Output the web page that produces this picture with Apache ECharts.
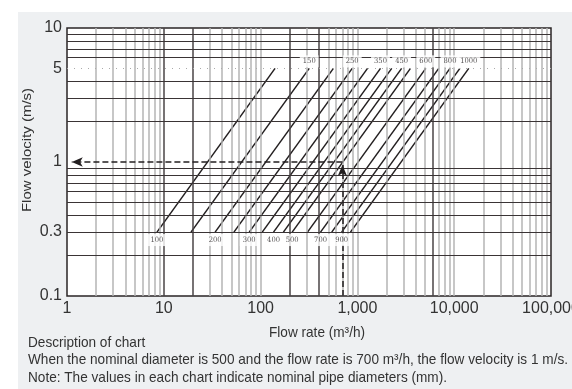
<!DOCTYPE html>
<html><head><meta charset="utf-8">
<script src="https://cdn.jsdelivr.net/npm/echarts@6/dist/echarts.min.js"></script>
<style>html,body{margin:0;padding:0;background:#fff}#c{width:572px;height:389px}</style>
</head><body><div id="c"></div>
<script>
// Nominal pipe diameters (mm) and the flow rates (m3/h) at each line's two ends
const diameters = [100, 150, 200, 250, 300, 350, 400, 450, 500, 600, 700, 800, 900, 1000];
const flowAtLowEnd = [8.5, 19.1, 33.9, 53, 76.3, 104, 136, 172, 212, 305, 416, 543, 687, 848];
const flowAtHighEnd = [141, 318, 565, 884, 1272, 1732, 2262, 2863, 3534, 5089, 6927, 9048, 11451, 14137];
const velocityLowEnd = 0.3;
const velocityHighEnd = 5;
const labelledAtTop = [150, 250, 350, 450, 600, 800, 1000];

// Axis ticks / gridlines
const xTickLabels = ['1', '10', '100', '1,000', '10,000', '100,000'];
const yExtraTicks = [5, 0.3];
const hGridLines = [0.2, 0.3, 0.4, 0.5, 0.6, 0.7, 0.8, 0.9, 2, 3, 4, 6, 7, 8, 9];
const hGridFaint = [5];
const vGridDark = [10, 20, 200, 400, 6000];
const vGridLight = [2, 3, 4, 5, 6, 7, 8, 9, 30, 40, 50, 60, 70, 80, 90, 100, 300, 500, 600, 700, 800, 900,
  1000, 2000, 3000, 4000, 5000, 7000, 8000, 9000, 10000, 20000, 30000, 40000, 50000, 60000, 70000, 80000, 90000];

// Worked example
const exampleFlow = 700;
const exampleVelocity = 1;
const arrowTipFlow = 1.12;
const arrowTipVelocity = 0.95;

// Texts
const yTitle = 'Flow velocity (m/s)';
const xTitle = 'Flow rate (m³/h)';
const notes = [
  'Description of chart',
  'When the nominal diameter is 500 and the flow rate is 700 m³/h, the flow velocity is 1 m/s.',
  'Note: The values in each chart indicate nominal pipe diameters (mm).'
];

const INK = '#231f20';
const baseFont = '15px "Liberation Sans", Arial, sans-serif';
const tickFont = { fontFamily: '"Liberation Sans", Arial, sans-serif', fontSize: 16, color: '#333' };

// condensed look: horizontally squeeze Liberation Sans so the long note line spans ~540px
const mctx = document.createElement('canvas').getContext('2d');
mctx.font = baseFont;
const squeeze = 540 / mctx.measureText(notes[1]).width;

const chart = echarts.init(document.getElementById('c'));

const gridMarks = [];
vGridLight.forEach(v => gridMarks.push({ xAxis: v, lineStyle: { color: '#b4b4b4', width: 1.5, type: 'solid' } }));
vGridDark.forEach(v => gridMarks.push({ xAxis: v, lineStyle: { color: '#4a4446', width: 1.5, type: 'solid' } }));
hGridLines.forEach(v => {
  const m = { yAxis: v, lineStyle: { color: '#3a3435', width: 1, type: 'solid' } };
  if (yExtraTicks.includes(v)) m.label = { show: true, position: 'start', formatter: String(v), distance: 5, ...tickFont };
  gridMarks.push(m);
});
hGridFaint.forEach(v => {
  const m = { yAxis: v, lineStyle: { color: '#aaa', width: 1, type: [1, 6] } };
  if (yExtraTicks.includes(v)) m.label = { show: true, position: 'start', formatter: String(v), distance: 5, ...tickFont };
  gridMarks.push(m);
});

const series = [{
  type: 'line', name: 'grid', data: [], z: 1, silent: true,
  markLine: { silent: true, symbol: 'none', animation: false, label: { show: false }, data: gridMarks }
}];

diameters.forEach((d, i) => {
  series.push({
    type: 'line', name: 'DN' + d, z: 3, silent: true, symbol: 'none', animation: false,
    lineStyle: { color: INK, width: 1.5 },
    data: [[flowAtLowEnd[i], velocityLowEnd], [flowAtHighEnd[i], velocityHighEnd]]
  });
});

const labelData = diameters.map((d, i) => {
  const top = labelledAtTop.includes(d);
  return {
    value: top ? [flowAtHighEnd[i], velocityHighEnd] : [flowAtLowEnd[i], velocityLowEnd],
    label: { position: top ? 'top' : 'bottom', distance: top ? 1 : 2, formatter: String(d) }
  };
});
series.push({
  type: 'scatter', name: 'labels', z: 6, silent: true, symbolSize: 0, animation: false,
  data: labelData,
  label: {
    show: true, fontFamily: '"DejaVu Serif Condensed", "Liberation Serif", serif', fontSize: 7.5,
    color: INK, backgroundColor: '#fff', padding: [2, 3]
  }
});

series.push({
  type: 'line', name: 'example', data: [], z: 5, silent: true,
  markLine: {
    silent: true, animation: false, label: { show: false },
    symbol: ['none', 'arrow'], symbolSize: [7, 11],
    lineStyle: { color: INK, width: 1.5, type: [6, 3] },
    data: [
      [{ coord: [exampleFlow, exampleVelocity] }, { coord: [arrowTipFlow, exampleVelocity] }],
      [{ coord: [exampleFlow, 0.1] }, { coord: [exampleFlow, arrowTipVelocity] }]
    ]
  }
});

const textEl = (txt, x, y, align, rot) => ({
  type: 'text', x, y, rotation: rot || 0, scaleX: rot ? 1 : squeeze, scaleY: rot ? squeeze : 1,
  style: { text: txt, align, verticalAlign: 'middle', font: baseFont, fill: '#333' }
});

chart.setOption({
  animation: false,
  backgroundColor: 'transparent',
  grid: { left: 67, right: 21, top: 28, bottom: 93, outerBoundsMode: 'none', containLabel: false,
    show: true, backgroundColor: '#fff', borderColor: '#2a2526', borderWidth: 1.5, z: 0 },
  xAxis: {
    type: 'log', logBase: 10, min: 1, max: 100000,
    axisLine: { show: false }, axisTick: { show: false }, splitLine: { show: false },
    axisLabel: {
      ...tickFont, margin: 5, hideOverlap: false,
      formatter: v => xTickLabels[Math.round(Math.log10(v))]
    }
  },
  yAxis: {
    type: 'log', logBase: 10, min: 0.1, max: 10,
    axisLine: { show: false }, axisTick: { show: false }, splitLine: { show: false },
    axisLabel: {
      ...tickFont, margin: 5,
      formatter: v => (v < 0.5 ? '0.1' : v < 5 ? '1' : '10')
    }
  },
  graphic: [
    { type: 'rect', z: -10, shape: { x: 18, y: 12, width: 560, height: 380 }, style: { fill: '#eef0f2' } },
    textEl(yTitle, 27, 150, 'center', Math.PI / 2),
    textEl(xTitle, 317, 333, 'center'),
    textEl(notes[0], 28, 343, 'left'),
    textEl(notes[1], 28, 360, 'left'),
    textEl(notes[2], 28, 378, 'left')
  ],
  series
});
</script></body></html>
